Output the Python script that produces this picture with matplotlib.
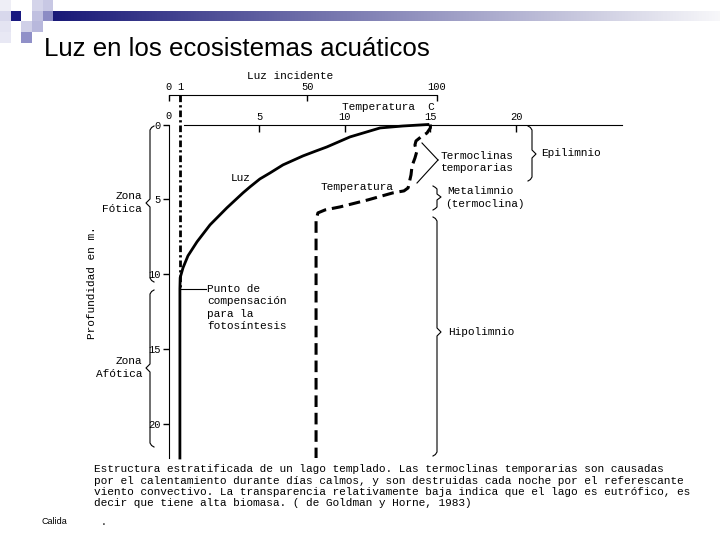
import numpy as np
import matplotlib
matplotlib.use("Agg")
import matplotlib.pyplot as plt
from matplotlib.lines import Line2D
from matplotlib.patches import Rectangle

W, H = 720, 540

# curva de luz (porcentaje de la luz incidente) vs profundidad (m)
luz_prof = [0, 0.1, 0.23, 0.83, 1.5, 1.77, 2.1, 2.7, 3.24, 3.64, 4.17, 4.57,
            5.57, 6.71, 7.84, 8.78, 9.58, 10.25, 10.98, 22.3]
luz_pct = [96.5, 86.9, 78.1, 66.5, 57.6, 53.4, 48.4, 40.7, 35.7, 31.8, 28.0, 25.3,
           19.1, 12.6, 7.6, 4.1, 2.2, 1.1, 1.0, 1.0]

# curva de temperatura (C) vs profundidad (m)
temp_prof = [0, 0.23, 0.57, 0.83, 1.1, 1.37, 1.84, 2.24, 2.77, 3.37, 3.97,
             4.24, 4.44, 4.57, 5.04, 5.51, 5.71, 5.91, 6.38, 22.3]
temp_c = [15.0, 15.0, 14.8, 14.45, 14.16, 14.1, 14.2, 14.1, 13.93, 13.87,
          13.75, 13.7, 13.46, 12.82, 11.36, 9.73, 8.86, 8.44, 8.33, 8.33]

prof_ticks = [0, 5, 10, 15, 20]
temp_ticks = [5, 10, 15, 20]
luz_ticks = [0, 1, 50, 100]
luz_comp = 1.0     # punto de compensacion
prof_comp = 11.0

caption = [
    "Estructura estratificada de un lago templado. Las termoclinas temporarias son causadas",
    "por el calentamiento durante días calmos, y son destruidas cada noche por el referescante",
    "viento convectivo. La transparencia relativamente baja indica que el lago es eutrófico, es",
    "decir que tiene alta biomasa. ( de Goldman y Horne, 1983)",
]

plt.rcParams["font.family"] = ["Liberation Mono", "DejaVu Sans Mono"]

# the light scale in the original is stretched between 0 and 1 %
A = 3.2


def fwd(v):
    v = np.asarray(v, dtype=float)
    return v + A * np.minimum(v, 1)


def inv(v):
    v = np.asarray(v, dtype=float)
    return np.where(v <= 1 + A, v / (1 + A), v - A)


def fx(x):
    return x / W


def fy(y):
    return 1 - y / H


def label(x, y, s, size=8, **kw):
    fig.text(fx(x), fy(y), s, fontsize=size, va="center", **kw)


def brace(x, y0, y1, d, ym=None, w=4, c=4, h=4):
    if ym is None:
        ym = (y0 + y1) / 2
    xs = [x - d * c, x - d * c * 0.4, x, x, x + d * w, x, x, x - d * c * 0.4, x - d * c]
    ys = [y0, y0 + 1.5, y0 + h, ym - h, ym, ym + h, y1 - h, y1 - 1.5, y1]
    fig.add_artist(Line2D([fx(v) for v in xs], [fy(v) for v in ys], color="k", lw=0.8))


def seg(x0, y0, x1, y1):
    fig.add_artist(Line2D([fx(x0), fx(x1)], [fy(y0), fy(y1)], color="k", lw=0.8))


fig = plt.figure(figsize=(7.2, 5.4), dpi=100)

# header decoration
cell = 10.7
squares = [(0, 0, "#eeeef6"), (3, 0, "#d4d4ea"), (4, 0, "#c8c8e4"),
           (0, 1, "#d8d8ec"), (1, 1, "#1a1a80"), (3, 1, "#c0c0e0"), (4, 1, "#8c8cc4"),
           (0, 2, "#e4e4f2"), (2, 2, "#d0d0e8"), (3, 2, "#b8b8dc"),
           (0, 3, "#e8e8f4"), (2, 3, "#9090c8")]
for col, row, colr in squares:
    fig.add_artist(Rectangle((fx(col * cell), fy((row + 1) * cell)), cell / W, cell / H,
                             facecolor=colr, edgecolor="none"))

axg = fig.add_axes([fx(53), fy(21), fx(720) - fx(53), 10 / H])
g = np.linspace(0, 1, 256)[:, None]
left = np.array([0.10, 0.10, 0.47])
right = np.array([0.97, 0.97, 0.98])
axg.imshow((left + (right - left) * g)[None, :, :], aspect="auto")
axg.axis("off")

fig.text(fx(44), fy(56), "Luz en los ecosistemas acuáticos", fontsize=18.6,
         family="Liberation Sans", va="baseline")

# main axes: temperature (top) and depth (left)
ax = fig.add_axes([fx(169), fy(458), fx(622) - fx(169), fy(124.5) - fy(458)])
ax.set_xlim(-0.25, 26.18)
ax.set_ylim(22.3, 0)
ax.patch.set_visible(False)
ax.spines["right"].set_visible(False)
ax.spines["bottom"].set_visible(False)
ax.spines["top"].set_bounds(0.6, 26.18)

ax.plot(temp_c, temp_prof, color="k", lw=2.2, ls=(0, (3.8, 1.9)),
        clip_on=False, solid_capstyle="butt")

# light curve on its own x scale
ax2 = ax.twiny()
ax2.set_xscale("function", functions=(fwd, inv))
ax2.set_xlim(0, 171.24)
ax2.axis("off")
ax2.plot(luz_pct, luz_prof, color="k", lw=2.0, clip_on=False)
ax2.plot([luz_comp, luz_comp], [-1.97, prof_comp], color="k", lw=2.0,
         ls=(0, (2.4, 1.1, 0.8, 1.1)), clip_on=False)

# ticks of the main axes (after twiny, which moves them to the bottom)
ax.xaxis.tick_top()
ax.set_xticks(temp_ticks)
ax.tick_params(axis="x", direction="in", length=5, width=1, pad=2, labelsize=7.5)
ax.set_yticks(prof_ticks)
ax.tick_params(axis="y", direction="out", length=4, width=1, pad=2, labelsize=7.5)

# light scale
axl = fig.add_axes([fx(169), fy(95), fx(437) - fx(169), 0.0001])
axl.set_xscale("function", functions=(fwd, inv))
axl.set_xlim(0, 100)
for s in ["left", "right", "bottom"]:
    axl.spines[s].set_visible(False)
axl.patch.set_visible(False)
axl.xaxis.tick_top()
axl.set_xticks(luz_ticks)
axl.set_xticklabels([str(t) for t in luz_ticks])
axl.tick_params(axis="x", direction="in", length=4, width=1, pad=2, labelsize=7.5)
axl.set_yticks([])

# axis titles
label(290, 76, "Luz incidente", ha="center")
label(342, 107, "Temperatura  C", ha="left")
label(168, 116, "0", size=7.5, ha="center")
fig.text(fx(92), fy(283), "Profundidad en m.", fontsize=8, rotation=90,
         ha="center", va="center")

# curve labels
label(241, 178, "Luz", ha="center")
label(357, 187, "Temperatura", ha="center")
seg(181, 289, 206, 289)
label(207, 289, "Punto de")
label(207, 301, "compensación")
label(207, 314, "para la")
label(207, 326, "fotosíntesis")

# zones
brace(150, 126, 282, -1, ym=203)
label(142, 196, "Zona", ha="right")
label(142, 209, "Fótica", ha="right")
brace(150, 290, 447, -1, ym=368)
label(142, 361, "Zona", ha="right")
label(142, 374, "Afótica", ha="right")

brace(532, 126, 181, 1, ym=154)
label(541, 153, "Epilimnio")
seg(422, 143, 438, 160)
seg(417, 183, 438, 160)
label(441, 156, "Termoclinas")
label(441, 168, "temporarias")
brace(437, 186, 210, 1, ym=197, h=3)
label(447, 191, "Metalimnio")
label(445, 204, "(termoclina)")
brace(437, 217, 456, 1, ym=332)
label(448, 332, "Hipolimnio")

# caption
for i, line in enumerate(caption):
    label(94, [469, 481, 492, 503][i], line)

fig.text(fx(42), fy(521), "Calida", fontsize=6.5, family="Liberation Sans", va="center")
label(101, 522, ".", size=7)

fig.savefig("out.png", dpi=100)
